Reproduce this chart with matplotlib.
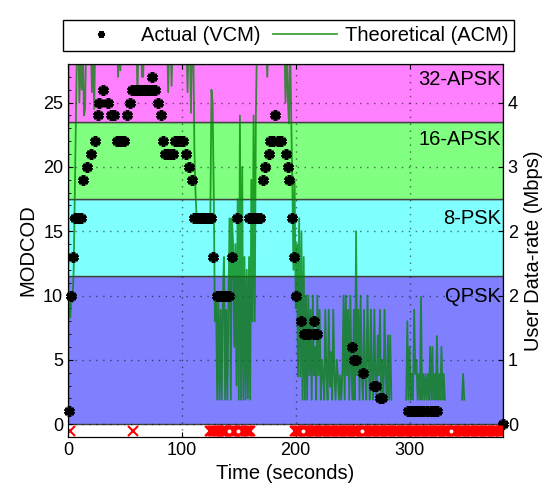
import numpy as np
import matplotlib.pyplot as plt
from matplotlib.ticker import MultipleLocator

plt.rcParams["font.family"] = ["Liberation Sans", "DejaVu Sans"]

nan = float("nan")

# ==========================
# DATA
# ==========================

# theoretical (ACM) modcod, one sample per second starting at t = 0
acm_modcod = [
    8.1, 9.6, 8.3, 10.0, 9.5, 12, 18, 24, 30, 30,
    25, 30, 26, 30, 24, 24.5, 30, 30, 30, 30,
    30, 25.8, 30, 24.5, 30, 30, 30, 30, 30, 30,
    30, 30, 30, 30, 30, 30, 30, 30, 30, 30,
    30, 30, 30, 30, 27, 30, 27.5, 30, 30, 30,
    30, 30, 30, 30, 30, 30, 30, 30, 30, 30,
    30, 25.8, 30, 30, 30, 27, 27, 30, 30, 30,
    30, 30, 30, 30, 30, 30, 30, 30, 30, 30,
    30, 30, 30, 30, 30, 30, 30, 30, 25.8, 30,
    30, 26.3, 30, 30, 30, 30, 30, 30, 30, 30,
    30, 30, 30, 30, 30, 25.8, 30, 30, 24.2, 30,
    30, 21.3, 18, 16, 16, 16, 16, 16, 16, 16,
    16, 16, 16, 16, 16, 16, 26, 25, 18, 8,
    10, 1.9, 10, 1.9, 8.9, 1.9, 10, 13, 1.9, 8.9,
    1.9, 10, 16, 1.9, 16, 14, 6, 14, 3, 17.5,
    1.9, 24, 1.9, 20, 1.9, 13, 1.9, 12, 2, 13,
    1.9, 19, 8, 24, 8, 24, 30, 30, 30, 30,
    30, 30, 30, 30, 30, 27, 30, 30, 30, 30,
    30, 30, 30, 28, 30, 30, 30, 30, 30, 30,
    30, 25, 30, 25.5, 23.4, 30, 24, 19, 12, 19,
    9, 14, 3.7, 16, 3.7, 15, 1.9, 13, 1.9, 10,
    1.9, 10, 3.8, 8.9, 1.9, 10, 3.8, 6, 1.9, 10,
    3.8, 8.9, 1.9, 5, 3.8, 1.9, 8.9, 3.8, 1.9, 8.9,
    2.9, 5.6, 1.9, 8.9, 3.8, 1.9, 5, 3.8, 1.9, 3.8,
    1.9, 3.8, 10, 1.9, 10, 3.8, 8.9, 1.9, 10, 3.8,
    1.9, 8.9, 1.9, 15, 3.8, 8.9, 1.9, 10, 3.8, 1.9,
    8.9, 3.8, 1.9, 10, 5, 1.9, 8.9, 3.8, 1.9, 8.9,
    3.8, 1.9, 6.9, 3.8, 8.9, 1.9, 5, 1.9, 8.9, 3.8,
    1.9, 6.9, 1.9, 6.9, 1.9, nan, nan, nan, nan, nan,
    nan, nan, nan, nan, nan, nan, nan, 1.9, 8, 1.9,
    6, 1.9, 3.9, 1.9, 8.9, 3.9, 5, 1.9, 3.9, 1.9,
    9.9, 1.9, 3.9, 1.9, 3.9, 1.9, 3.9, 1.9, 6, 1.9,
    6, 1.9, 3.9, 1.9, 6.85, 1.9, 3.9, 1.9, 6, 1.9,
    3.9, 1.9, nan, nan, nan, nan, nan, nan, nan, nan,
    nan, nan, nan, nan, nan, nan, 1.9, 3.9, 1.9,
]
acm_time = np.arange(len(acm_modcod))

# actual (VCM) modcod samples
vcm_time = [
    1, 3, 4.7, 6.5, 9, 11, 13.4, 17, 19.9, 23.7,
    26.6, 27.5, 31, 35.4, 37.5, 40, 42.7, 45, 47, 49.4,
    51.5, 54.4, 56, 58.5, 61, 63.5, 66, 68.5, 71, 73.4,
    74, 76.5, 79.2, 81.3, 83, 85, 87.5, 90, 91.8, 94,
    96.5, 98.5, 100.6, 104, 106.4, 108.5, 111, 113.5, 116, 118.5,
    121, 123.5, 125.6, 127.5, 131, 133.5, 136, 138.5, 141, 143.6,
    148.5, 159, 161.5, 164, 166.5, 169, 171.3, 173, 176.6, 177,
    180, 182, 184, 187.4, 191.8, 193, 194, 196.8, 198.5, 200,
    204.7, 207, 209.5, 212, 215.8, 216, 219, 249.4, 251, 253,
    259.4, 268.5, 270.5, 274, 276, 299, 301.5, 304, 306.5, 309,
    312, 315, 318.5, 321, 324, 382,
]
vcm_modcod = [
    1, 10, 13, 16, 16, 16, 19, 20, 21, 22,
    24, 25, 26, 25, 24, 24, 22, 22, 22, 22,
    24, 25, 26, 26, 26, 26, 26, 26, 26, 27,
    26, 26, 25, 24, 22, 21, 21, 21, 21, 22,
    22, 22, 22, 21, 20, 19, 16, 16, 16, 16,
    16, 16, 16, 13, 10, 10, 10, 10, 10, 13,
    16, 16, 16, 16, 16, 16, 19, 20, 21, 22,
    22, 24, 22, 22, 21, 20, 19, 16, 13, 10,
    8, 7, 7, 7, 8, 7, 7, 6, 5, 5,
    4, 3, 3, 2, 2, 1, 1, 1, 1, 1,
    1, 1, 1, 1, 1, 0,
]

# seconds with lost frames (start, end)
loss_runs = [(2, 2), (57, 57), (125, 140), (142, 148), (151, 160), (199, 382)]
white_marks = [141.5, 149.5, 206, 258, 336]

band_names = ["QPSK", "8-PSK", "16-APSK", "32-APSK"]
band_edges = [0, 11.5, 17.5, 23.5, 28]
band_colors = ["#8080FF", "#80FFFF", "#80FF80", "#FF80FF"]
band_label_y = [9.9, 16.0, 22.1, 26.8]

rate_ticks = [0, 5, 10, 15, 20, 25]
rate_labels = ["0", "1", "2", "2", "3", "4"]

loss_time = []
for start, end in loss_runs:
    loss_time += list(range(start, end + 1))

# ==========================
# PLOT
# ==========================

fig = plt.figure(figsize=(5.47, 4.97), dpi=100)
ax = fig.add_axes([0.1243, 0.1207, 0.7952, 0.7505])

for i in range(len(band_names)):
    ax.axhspan(band_edges[i], band_edges[i + 1], facecolor=band_colors[i],
               edgecolor="#404040", linewidth=1, zorder=0.2)
    ax.text(380, band_label_y[i], band_names[i], ha="right", va="center",
            fontsize=14.5, zorder=5)

ax.set_axisbelow(True)
ax.grid(True, linestyle=(0, (1, 4)), color="black", alpha=0.55, linewidth=1)

acm_line, = ax.plot(acm_time, acm_modcod, color=(0, 0.5, 0), alpha=0.75,
                    linewidth=1.3, zorder=2, label="Theoretical (ACM)")
vcm_line, = ax.plot(vcm_time, vcm_modcod, linestyle="none", marker=(6, 2, 0),
                    markersize=7.5, markeredgewidth=2.6, color="black",
                    zorder=3, clip_on=False, label="Actual (VCM)")
ax.plot(loss_time, [-0.5] * len(loss_time), linestyle="none", marker="x",
        markersize=7, markeredgewidth=1.5, color="red", zorder=3)
ax.plot(white_marks, [-0.5] * len(white_marks), linestyle="none", marker="o",
        markersize=1.8, color="white", zorder=4)

ax.set_xlim(0, 382)
ax.set_ylim(-1, 28)
ax.set_xticks([0, 100, 200, 300])
ax.set_yticks([0, 5, 10, 15, 20, 25])
ax.yaxis.set_minor_locator(MultipleLocator(1))
ax.tick_params(direction="in", labelsize=13, top=True)
ax.tick_params(which="minor", direction="in", length=2)
ax.set_xlabel("Time (seconds)", fontsize=14.5)
ax.set_ylabel("MODCOD", fontsize=14.5)

ax2 = ax.twinx()
ax2.set_ylim(-1, 28)
ax2.set_yticks(rate_ticks)
ax2.set_yticklabels(rate_labels)
ax2.tick_params(direction="in", labelsize=13)
ax2.set_ylabel("User Data-rate (Mbps)", fontsize=14.5)

leg = fig.legend([vcm_line, acm_line], ["Actual (VCM)", "Theoretical (ACM)"],
                 loc="upper center", bbox_to_anchor=(0.528, 0.98), ncol=2,
                 fontsize=14.5, handlelength=3.15, handletextpad=0.4,
                 columnspacing=0.65, markerscale=0.6, borderpad=0.3,
                 fancybox=False, framealpha=1, edgecolor="black")
leg.get_frame().set_linewidth(1)

plt.savefig("out.png", dpi=100)
plt.close()
